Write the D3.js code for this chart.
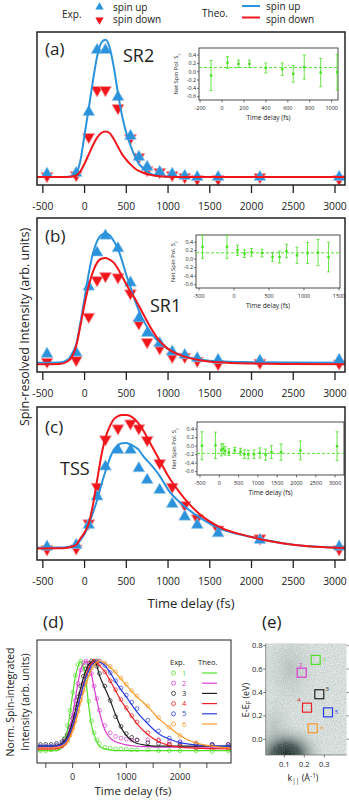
<!DOCTYPE html>
<html>
<head>
<meta charset="utf-8">
<script src="https://cdn.jsdelivr.net/npm/d3@7"></script>
<style>
  body { margin: 0; background: #fff; }
  text { font-family: "Open Sans", sans-serif; fill: #222; }
</style>
</head>
<body>
<div id="chart"></div>
<script>
// ---- data: spin-resolved panels (a)-(c) ----
const expTimes = [-450, -100, 50, 150, 250, 400, 550, 650, 750, 900, 1050, 1200, 1350, 1600, 2100, 3050]
const upA   = [0.072, 0.078, 0.477, 0.882, 0.882, 0.575, 0.32, 0.183, 0.118, 0.085, 0.072, 0.059, 0.052, 0.052, 0.052, 0.052]
const downA = [0.059, 0.065, 0.314, 0.621, 0.621, 0.503, 0.307, 0.183, 0.098, 0.085, 0.065, 0.052, 0.039, 0.039, 0.052, 0.039]
const upB   = [0.117, 0.125, 0.554, 0.775, 0.885, 0.803, 0.58, 0.349, 0.253, 0.186, 0.132, 0.11, 0.089, 0.078, 0.073, 0.078]
const downB = [0.067, 0.078, 0.359, 0.597, 0.623, 0.615, 0.511, 0.316, 0.195, 0.154, 0.099, 0.099, 0.073, 0.052, 0.06, 0.056]
const upC   = [0.087, 0.098, 0.229, 0.414, 0.61, 0.719, 0.719, 0.599, 0.523, 0.458, 0.366, 0.283, 0.229, 0.174, 0.131, 0.087]
const downC = [0.07, 0.076, 0.24, 0.479, 0.789, 0.861, 0.893, 0.861, 0.784, 0.634, 0.479, 0.359, 0.273, 0.2, 0.142, 0.07]

const theoTimes = [-570, -300, -200, -150, -100, -50, 0, 50, 100, 150, 200, 250, 300, 350, 400, 450, 500, 550, 600, 650, 700, 800, 900, 1000, 1200, 1400, 1600, 2000, 2500, 3120]
const theoUpA   = [0.052, 0.052, 0.054, 0.058, 0.075, 0.16, 0.33, 0.5, 0.68, 0.84, 0.93, 0.95, 0.9, 0.77, 0.6, 0.45, 0.34, 0.26, 0.19, 0.14, 0.11, 0.07, 0.058, 0.054, 0.052, 0.052, 0.052, 0.052, 0.052, 0.052]
const theoDownA = [0.052, 0.052, 0.053, 0.055, 0.062, 0.09, 0.14, 0.2, 0.26, 0.31, 0.34, 0.35, 0.34, 0.3, 0.25, 0.2, 0.165, 0.135, 0.11, 0.092, 0.08, 0.065, 0.057, 0.054, 0.052, 0.052, 0.052, 0.052, 0.052, 0.052]
const theoUpB   = [0.06, 0.062, 0.08, 0.12, 0.18, 0.32, 0.48, 0.64, 0.77, 0.85, 0.89, 0.9, 0.89, 0.85, 0.8, 0.72, 0.63, 0.55, 0.47, 0.4, 0.34, 0.25, 0.19, 0.15, 0.1, 0.08, 0.07, 0.064, 0.061, 0.06]
const theoDownB = [0.05, 0.052, 0.07, 0.1, 0.17, 0.3, 0.44, 0.56, 0.65, 0.71, 0.735, 0.74, 0.73, 0.71, 0.67, 0.62, 0.57, 0.52, 0.48, 0.43, 0.38, 0.28, 0.2, 0.15, 0.1, 0.075, 0.063, 0.055, 0.052, 0.05]
const theoUpC   = [0.08, 0.081, 0.085, 0.09, 0.1, 0.13, 0.17, 0.23, 0.31, 0.39, 0.49, 0.58, 0.66, 0.72, 0.75, 0.763, 0.765, 0.755, 0.74, 0.72, 0.68, 0.62, 0.55, 0.46, 0.35, 0.27, 0.21, 0.15, 0.1, 0.08]
const theoDownC = [0.075, 0.076, 0.08, 0.088, 0.1, 0.14, 0.18, 0.24, 0.36, 0.52, 0.68, 0.8, 0.87, 0.92, 0.94, 0.948, 0.948, 0.94, 0.92, 0.89, 0.85, 0.75, 0.65, 0.55, 0.4, 0.29, 0.22, 0.15, 0.1, 0.078]

const mainTicks = [-500, 0, 500, 1000, 1500, 2000, 2500, 3000]

// ---- insets: net spin polarisation ----
const insetTimesA = [-100, 50, 150, 250, 400, 550, 650, 750, 900, 1050]
const insetPolA   = [-0.09, 0.22, 0.19, 0.19, 0.09, 0.06, -0.05, 0.11, -0.02, -0.01]
const insetErrA   = [0.36, 0.14, 0.09, 0.09, 0.12, 0.15, 0.2, 0.29, 0.34, 0.43]
const insetMeanA  = 0.1
const insetTimesB = [-450, -100, 50, 150, 250, 400, 550, 650, 750, 900, 1050, 1200, 1350]
const insetPolB   = [0.29, 0.29, 0.21, 0.13, 0.16, 0.145, 0.05, 0.05, 0.19, 0.09, 0.145, 0.155, 0.05]
const insetErrB   = [0.27, 0.27, 0.12, 0.09, 0.09, 0.09, 0.1, 0.14, 0.16, 0.19, 0.25, 0.31, 0.35]
const insetMeanB  = 0.15
const insetTimesC = [-450, -100, 50, 100, 150, 250, 400, 550, 650, 750, 900, 1050, 1200, 1350, 1600, 2100, 3050]
const insetPolC   = [0.01, 0.02, -0.09, -0.06, -0.11, -0.14, -0.1, -0.13, -0.19, -0.2, -0.19, -0.16, -0.2, -0.14, -0.14, -0.1, 0.0]
const insetErrC   = [0.33, 0.31, 0.14, 0.12, 0.1, 0.08, 0.07, 0.08, 0.1, 0.1, 0.1, 0.12, 0.13, 0.15, 0.19, 0.22, 0.34]
const insetMeanC  = -0.17
const insetYTicks = [-0.6, -0.4, -0.2, 0.0, 0.2, 0.4]

// ---- panel (d): normalised spin-integrated ----
const dLabels = ["1", "2", "3", "4", "5", "6"]
const dColors = ["#52e02a", "#d83ccf", "#222222", "#ea2228", "#2a3ee0", "#f79a2a"]
const dExpTimes = [-600, -500, -400, -300, -200, -150, -100, -50, 0, 50, 100, 150, 200, 250, 300, 350, 400, 450, 500, 600, 700, 800, 900, 1000, 1100, 1200, 1400, 1600, 1800, 2000, 2300, 2600, 2900]
const dExp = [
  [0.0, 0.0, 0.01, 0.02, 0.06, 0.14, 0.28, 0.45, 0.65, 0.84, 0.96, 1.0, 0.95, 0.8, 0.55, 0.33, 0.2, 0.12, 0.08, 0.04, 0.03, 0.02, 0.02, 0.02, 0.01, 0.01, 0.01, 0.0, 0.0, 0.0, 0.0, -0.01, 0.0],
  [0.04, 0.04, 0.04, 0.05, 0.07, 0.11, 0.17, 0.27, 0.4, 0.56, 0.75, 0.9, 0.98, 1.0, 0.95, 0.86, 0.72, 0.58, 0.45, 0.28, 0.2, 0.16, 0.14, 0.13, 0.12, 0.12, 0.12, 0.11, 0.1, 0.09, 0.08, 0.07, 0.07],
  [0.07, 0.07, 0.07, 0.08, 0.1, 0.13, 0.18, 0.26, 0.36, 0.48, 0.6, 0.72, 0.83, 0.91, 0.97, 1.0, 0.99, 0.94, 0.86, 0.72, 0.56, 0.38, 0.27, 0.19, 0.15, 0.12, 0.09, 0.08, 0.07, 0.07, 0.07, 0.07, 0.07],
  [0.02, 0.02, 0.02, 0.03, 0.05, 0.08, 0.12, 0.19, 0.28, 0.39, 0.52, 0.64, 0.75, 0.85, 0.93, 0.98, 1.0, 0.99, 0.97, 0.88, 0.78, 0.68, 0.57, 0.48, 0.39, 0.32, 0.2, 0.12, 0.07, 0.05, 0.03, 0.02, 0.02],
  [0.05, 0.05, 0.05, 0.06, 0.08, 0.1, 0.14, 0.21, 0.3, 0.4, 0.52, 0.64, 0.74, 0.83, 0.9, 0.95, 0.98, 1.0, 1.0, 0.95, 0.87, 0.78, 0.7, 0.62, 0.54, 0.47, 0.34, 0.22, 0.14, 0.1, 0.07, 0.06, 0.05],
  [0.03, 0.03, 0.03, 0.04, 0.06, 0.08, 0.11, 0.17, 0.24, 0.33, 0.44, 0.56, 0.67, 0.76, 0.85, 0.92, 0.97, 0.99, 1.0, 0.98, 0.94, 0.88, 0.81, 0.74, 0.67, 0.61, 0.5, 0.37, 0.26, 0.17, 0.09, 0.05, 0.04]
]
const dTheoTimes = [-650, -400, -300, -200, -100, 0, 50, 100, 150, 200, 250, 300, 350, 400, 450, 500, 600, 700, 800, 900, 1000, 1200, 1400, 1600, 1800, 2000, 2400, 2950]
const dTheo = [
  [0, 0, 0, 0.04, 0.22, 0.63, 0.82, 0.94, 1.0, 0.93, 0.77, 0.5, 0.29, 0.18, 0.1, 0.05, 0.02, 0.01, 0, 0, 0, 0, 0, 0, 0, 0, 0, 0],
  [0.04, 0.04, 0.045, 0.06, 0.16, 0.4, 0.58, 0.76, 0.9, 0.97, 1.0, 0.96, 0.85, 0.7, 0.56, 0.43, 0.23, 0.14, 0.1, 0.08, 0.065, 0.05, 0.045, 0.04, 0.04, 0.04, 0.04, 0.04],
  [0.05, 0.05, 0.055, 0.08, 0.16, 0.33, 0.45, 0.58, 0.7, 0.81, 0.9, 0.96, 0.99, 1.0, 0.95, 0.84, 0.7, 0.56, 0.4, 0.26, 0.17, 0.08, 0.06, 0.05, 0.05, 0.05, 0.05, 0.05],
  [0.02, 0.02, 0.025, 0.04, 0.1, 0.26, 0.37, 0.5, 0.62, 0.74, 0.84, 0.92, 0.97, 1.0, 0.99, 0.95, 0.88, 0.78, 0.67, 0.56, 0.47, 0.3, 0.18, 0.1, 0.06, 0.04, 0.025, 0.02],
  [0.05, 0.05, 0.055, 0.07, 0.13, 0.28, 0.38, 0.5, 0.62, 0.73, 0.82, 0.89, 0.95, 0.98, 1.0, 0.99, 0.95, 0.87, 0.77, 0.68, 0.6, 0.43, 0.3, 0.19, 0.13, 0.09, 0.06, 0.05],
  [0.03, 0.03, 0.035, 0.05, 0.1, 0.22, 0.31, 0.42, 0.54, 0.65, 0.75, 0.84, 0.91, 0.96, 0.99, 1.0, 0.98, 0.93, 0.87, 0.8, 0.73, 0.6, 0.49, 0.36, 0.26, 0.17, 0.07, 0.03]
]
const dTicks = [-500, 0, 500, 1000, 1500, 2000, 2500]
const dTickLabels = [0, 1000, 2000]

// ---- panel (e): ARPES boxes ----
const eK = [0.257, 0.187, 0.275, 0.2135, 0.3185, 0.242]
const eE = [0.678, 0.569, 0.385, 0.27, 0.23, 0.094]
const eYTicks = [0.0, 0.2, 0.4, 0.6, 0.8]
const eXTicks = [0.1, 0.2, 0.3]

// ---------------------------------------------------------------
const upColor = "#2b93dc"
const downColor = "#f0161c"
const green = "#45e01e"

const svg = d3.select("#chart").append("svg").attr("width", 349).attr("height", 800)
const defs = svg.append("defs")

const xMain = d3.scaleLinear().domain([-570, 3120]).range([37, 345])

// top legend
const leg = svg.append("g")
leg.append("text").attr("x", 62).attr("y", 18).attr("font-size", 10).text("Exp.")
leg.append("path").attr("d", d3.symbol(d3.symbolTriangle, 30)()).attr("transform", "translate(99.5,7)").attr("fill", upColor)
leg.append("path").attr("d", d3.symbol(d3.symbolTriangle, 30)()).attr("transform", "translate(99.5,20) rotate(180)").attr("fill", downColor)
leg.append("text").attr("x", 113).attr("y", 10.5).attr("font-size", 10).text("spin up")
leg.append("text").attr("x", 113).attr("y", 23).attr("font-size", 10).text("spin down")
leg.append("text").attr("x", 202).attr("y", 17).attr("font-size", 10).text("Theo.")
leg.append("line").attr("x1", 242).attr("x2", 260).attr("y1", 6).attr("y2", 6).attr("stroke", upColor).attr("stroke-width", 2)
leg.append("line").attr("x1", 242).attr("x2", 260).attr("y1", 17.5).attr("y2", 17.5).attr("stroke", downColor).attr("stroke-width", 2)
leg.append("text").attr("x", 266).attr("y", 10).attr("font-size", 10).text("spin up")
leg.append("text").attr("x", 266).attr("y", 22.5).attr("font-size", 10).text("spin down")

const panels = [
  {id: "a", label: "(a)", tag: "SR2", tagX: 123, tagY: 62, top: 32, bottom: 185, labelY: 55,
   up: upA, down: downA, theoUp: theoUpA, theoDown: theoDownA,
   inset: {x0: 199, x1: 338, y0: 48, y1: 100, domain: [-210, 1058], ticks: [-200, 0, 200, 400, 600, 800, 1000],
           t: insetTimesA, v: insetPolA, e: insetErrA, mean: insetMeanA}},
  {id: "b", label: "(b)", tag: "SR1", tagX: 150, tagY: 312, top: 218, bottom: 372, labelY: 242,
   up: upB, down: downB, theoUp: theoUpB, theoDown: theoDownB,
   inset: {x0: 196, x1: 340, y0: 235, y1: 288, domain: [-543, 1514], ticks: [-500, 0, 500, 1000, 1500],
           t: insetTimesB, v: insetPolB, e: insetErrB, mean: insetMeanB}},
  {id: "c", label: "(c)", tag: "TSS", tagX: 60, tagY: 475, top: 407, bottom: 560, labelY: 433,
   up: upC, down: downC, theoUp: theoUpC, theoDown: theoDownC,
   inset: {x0: 197, x1: 344, y0: 422, y1: 475, domain: [-578, 3230], ticks: [-500, 0, 500, 1000, 1500, 2000, 2500, 3000],
           t: insetTimesC, v: insetPolC, e: insetErrC, mean: insetMeanC}}
]

panels.forEach(p => {
  const y = d3.scaleLinear().domain([0, 1]).range([p.bottom, p.top])
  const g = svg.append("g")

  defs.append("clipPath").attr("id", "clip-" + p.id)
    .append("rect").attr("x", 37).attr("y", p.top).attr("width", 308).attr("height", p.bottom - p.top)

  const plot = g.append("g").attr("clip-path", `url(#clip-${p.id})`)
  const lineGen = d3.line().x(d => xMain(d[0])).y(d => y(d[1])).curve(d3.curveMonotoneX)

  // experimental markers
  plot.selectAll(".dn").data(d3.zip(expTimes, p.down)).join("path")
    .attr("d", d3.symbol(d3.symbolTriangle, 62)())
    .attr("transform", d => `translate(${xMain(d[0])},${y(d[1])}) rotate(180)`)
    .attr("fill", downColor).attr("stroke", "#f7a3a8").attr("stroke-width", 0.8)
  plot.selectAll(".up").data(d3.zip(expTimes, p.up)).join("path")
    .attr("d", d3.symbol(d3.symbolTriangle, 62)())
    .attr("transform", d => `translate(${xMain(d[0])},${y(d[1])})`)
    .attr("fill", upColor).attr("stroke", "#9fcdef").attr("stroke-width", 0.6)

  // theory curves
  plot.append("path").datum(d3.zip(theoTimes, p.theoUp)).attr("d", lineGen)
    .attr("fill", "none").attr("stroke", upColor).attr("stroke-width", 2)
  plot.append("path").datum(d3.zip(theoTimes, p.theoDown)).attr("d", lineGen)
    .attr("fill", "none").attr("stroke", downColor).attr("stroke-width", 2)

  // frame
  g.append("rect").attr("x", 37).attr("y", p.top).attr("width", 308).attr("height", p.bottom - p.top)
    .attr("fill", "none").attr("stroke", "#222").attr("stroke-width", 1.5)

  // x axis ticks & labels
  g.selectAll(".tk").data(mainTicks).join("line")
    .attr("x1", d => xMain(d)).attr("x2", d => xMain(d))
    .attr("y1", p.bottom).attr("y2", p.bottom + 8)
    .attr("stroke", "#222").attr("stroke-width", 1.3)
  g.selectAll(".tl").data(mainTicks).join("text")
    .attr("x", d => xMain(d)).attr("y", p.bottom + 25)
    .attr("text-anchor", "middle").attr("font-size", 10.3).text(d => d)

  g.append("text").attr("x", 45).attr("y", p.labelY).attr("font-size", 17).text(p.label)
  g.append("text").attr("x", p.tagX).attr("y", p.tagY).attr("font-size", 18).text(p.tag)

  // inset
  const ins = p.inset
  const ix = d3.scaleLinear().domain(ins.domain).range([ins.x0, ins.x1])
  const iy = d3.scaleLinear().domain([-0.68, 0.57]).range([ins.y1, ins.y0])
  const ig = g.append("g")
  ig.append("rect").attr("x", ins.x0).attr("y", ins.y0).attr("width", ins.x1 - ins.x0).attr("height", ins.y1 - ins.y0)
    .attr("fill", "#fff").attr("stroke", "#222").attr("stroke-width", 0.8)
  ig.append("line").attr("x1", ins.x0).attr("x2", ins.x1).attr("y1", iy(ins.mean)).attr("y2", iy(ins.mean))
    .attr("stroke", green).attr("stroke-width", 0.9).attr("stroke-dasharray", "3,2")
  const pts = d3.zip(ins.t, ins.v, ins.e)
  ig.selectAll(".eb").data(pts).join("line")
    .attr("x1", d => ix(d[0])).attr("x2", d => ix(d[0]))
    .attr("y1", d => iy(d[1] - d[2])).attr("y2", d => iy(d[1] + d[2]))
    .attr("stroke", green).attr("stroke-width", 0.8)
  ig.selectAll(".cp").data(pts.flatMap(d => [[d[0], d[1] - d[2]], [d[0], d[1] + d[2]]])).join("line")
    .attr("x1", d => ix(d[0]) - 1.5).attr("x2", d => ix(d[0]) + 1.5)
    .attr("y1", d => iy(d[1])).attr("y2", d => iy(d[1]))
    .attr("stroke", green).attr("stroke-width", 0.8)
  ig.selectAll(".pt").data(pts).join("rect")
    .attr("x", d => ix(d[0]) - 1.2).attr("y", d => iy(d[1]) - 1.2).attr("width", 2.4).attr("height", 2.4)
    .attr("fill", green)
  ig.selectAll(".yt").data(insetYTicks).join("line")
    .attr("x1", ins.x0 - 2).attr("x2", ins.x0).attr("y1", d => iy(d)).attr("y2", d => iy(d))
    .attr("stroke", "#222").attr("stroke-width", 0.6)
  ig.selectAll(".yl").data(insetYTicks).join("text")
    .attr("x", ins.x0 - 3).attr("y", d => iy(d) + 1.8).attr("text-anchor", "end")
    .attr("font-size", 5.4).text(d => d.toFixed(1))
  ig.selectAll(".xt").data(ins.ticks).join("line")
    .attr("x1", d => ix(d)).attr("x2", d => ix(d)).attr("y1", ins.y1).attr("y2", ins.y1 + 2.5)
    .attr("stroke", "#222").attr("stroke-width", 0.6)
  ig.selectAll(".xl").data(ins.ticks).join("text")
    .attr("x", d => ix(d)).attr("y", ins.y1 + 10).attr("text-anchor", "middle")
    .attr("font-size", 5.4).text(d => d)
  ig.append("text").attr("x", (ins.x0 + ins.x1) / 2).attr("y", ins.y1 + 20)
    .attr("text-anchor", "middle").attr("font-size", 6.6).text("Time delay (fs)")
  const yl = ig.append("text").attr("transform", `translate(${ins.x0 - 21},${(ins.y0 + ins.y1) / 2}) rotate(-90)`)
    .attr("text-anchor", "middle").attr("font-size", 5.8)
  yl.append("tspan").text("Net Spin Pol. S")
  yl.append("tspan").attr("font-size", 4.2).attr("dy", 1.5).text("y")
})

svg.append("text").attr("x", 191).attr("y", 608).attr("text-anchor", "middle").attr("font-size", 13).text("Time delay (fs)")
svg.append("text").attr("transform", "translate(29,327) rotate(-90)").attr("text-anchor", "middle")
  .attr("font-size", 12.5).text("Spin-resolved Intensity (arb. units)")

// ---- panel (d) ----
const xd = d3.scaleLinear().domain([-664, 2950]).range([37, 231])
const yd = d3.scaleLinear().domain([-0.137, 1.234]).range([763, 640])
const gd = svg.append("g")
defs.append("clipPath").attr("id", "clip-d").append("rect").attr("x", 37).attr("y", 640).attr("width", 194).attr("height", 123)
const pd = gd.append("g").attr("clip-path", "url(#clip-d)")
const dLine = d3.line().x(d => xd(d[0])).y(d => yd(d[1])).curve(d3.curveMonotoneX)
dExp.forEach((vals, i) => {
  pd.append("g").selectAll("circle").data(d3.zip(dExpTimes, vals)).join("circle")
    .attr("cx", d => xd(d[0])).attr("cy", d => yd(d[1])).attr("r", 1.9)
    .attr("fill", "none").attr("stroke", dColors[i]).attr("stroke-width", 0.7)
})
dTheo.forEach((vals, i) => {
  pd.append("path").datum(d3.zip(dTheoTimes, vals)).attr("d", dLine)
    .attr("fill", "none").attr("stroke", dColors[i]).attr("stroke-width", 1.2)
})
gd.append("rect").attr("x", 37).attr("y", 640).attr("width", 194).attr("height", 123)
  .attr("fill", "none").attr("stroke", "#222").attr("stroke-width", 1)
gd.selectAll(".tk").data(dTicks).join("line")
  .attr("x1", d => xd(d)).attr("x2", d => xd(d)).attr("y1", 763).attr("y2", 768)
  .attr("stroke", "#222").attr("stroke-width", 0.8)
gd.selectAll(".tl").data(dTickLabels).join("text")
  .attr("x", d => xd(d)).attr("y", 780).attr("text-anchor", "middle").attr("font-size", 9).text(d => d)
gd.append("text").attr("x", 133).attr("y", 795).attr("text-anchor", "middle").attr("font-size", 11.5).text("Time delay (fs)")
gd.append("text").attr("transform", "translate(14,702) rotate(-90)").attr("text-anchor", "middle")
  .attr("font-size", 10.5).text("Norm. Spin-integrated")
gd.append("text").attr("transform", "translate(29,702) rotate(-90)").attr("text-anchor", "middle")
  .attr("font-size", 10.5).text("Intensity (arb. units)")
gd.append("text").attr("x", 43).attr("y", 628).attr("font-size", 17).text("(d)")
// legend
gd.append("text").attr("x", 170).attr("y", 665).attr("font-size", 7.5).text("Exp.")
gd.append("text").attr("x", 198).attr("y", 665).attr("font-size", 7.5).text("Theo.")
dLabels.forEach((lab, i) => {
  const ly = 673 + i * 10.2
  gd.append("circle").attr("cx", 173.5).attr("cy", ly).attr("r", 2).attr("fill", "none")
    .attr("stroke", dColors[i]).attr("stroke-width", 0.8)
  gd.append("text").attr("x", 182).attr("y", ly + 2.5).attr("font-size", 7.5).style("fill", dColors[i]).text(lab)
  gd.append("line").attr("x1", 202).attr("x2", 217).attr("y1", ly).attr("y2", ly)
    .attr("stroke", dColors[i]).attr("stroke-width", 1.2)
})

// ---- panel (e) ----
const xe = d3.scaleLinear().domain([0.007, 0.412]).range([265.7, 346.7])
const ye = d3.scaleLinear().domain([-0.134, 0.82]).range([755, 643.3])
const ge = svg.append("g")
defs.append("clipPath").attr("id", "clip-e").append("rect").attr("x", 265.7).attr("y", 643.3).attr("width", 81).attr("height", 111.7)
const speck = defs.append("filter").attr("id", "speck").attr("x", 0).attr("y", 0).attr("width", 1).attr("height", 1)
speck.append("feTurbulence").attr("type", "fractalNoise").attr("baseFrequency", 0.9).attr("numOctaves", 2).attr("seed", 4)
speck.append("feColorMatrix").attr("type", "matrix")
  .attr("values", "0 0 0 0 0.3  0 0 0 0 0.38  0 0 0 0 0.36  1.6 0 0 0 -0.55")
const blob = defs.append("radialGradient").attr("id", "blob")
blob.append("stop").attr("offset", "0").attr("stop-color", "#0f1b19").attr("stop-opacity", 1)
blob.append("stop").attr("offset", "0.35").attr("stop-color", "#2c3d3a").attr("stop-opacity", 0.85)
blob.append("stop").attr("offset", "0.7").attr("stop-color", "#7b8b88").attr("stop-opacity", 0.35)
blob.append("stop").attr("offset", "1").attr("stop-color", "#b8c2c0").attr("stop-opacity", 0)
const haze = defs.append("radialGradient").attr("id", "haze")
haze.append("stop").attr("offset", "0").attr("stop-color", "#9eaaa7").attr("stop-opacity", 0.5)
haze.append("stop").attr("offset", "1").attr("stop-color", "#c8d0ce").attr("stop-opacity", 0)

const pe = ge.append("g").attr("clip-path", "url(#clip-e)")
pe.append("rect").attr("x", 265.7).attr("y", 643.3).attr("width", 81).attr("height", 111.7).attr("fill", "#e1e7e5")
pe.append("ellipse").attr("cx", xe(0.13)).attr("cy", ye(0.6)).attr("rx", 28).attr("ry", 45).attr("fill", "url(#haze)")
pe.append("ellipse").attr("cx", xe(0.05)).attr("cy", ye(0.1)).attr("rx", 22).attr("ry", 32).attr("fill", "url(#haze)")
pe.append("ellipse").attr("cx", xe(0.11)).attr("cy", ye(-0.13)).attr("rx", 38).attr("ry", 30).attr("fill", "url(#blob)")
pe.append("rect").attr("x", 265.7).attr("y", 643.3).attr("width", 81).attr("height", 111.7)
  .attr("filter", "url(#speck)").attr("opacity", 0.55)
// region boxes
eK.forEach((k, i) => {
  pe.append("rect").attr("x", xe(k) - 4.5).attr("y", ye(eE[i]) - 4.5).attr("width", 9).attr("height", 9)
    .attr("fill", "none").attr("stroke", dColors[i]).attr("stroke-width", 1.2)
})
const eLabelDx = [9, -1, 8, -8, 8.5, 9.5]
const eLabelDy = [2, -6, -3.5, -5.5, 2, 2]
eK.forEach((k, i) => {
  ge.append("text").attr("x", xe(k) + eLabelDx[i]).attr("y", ye(eE[i]) + eLabelDy[i])
    .attr("text-anchor", "middle").attr("font-size", 6).style("fill", dColors[i]).text(dLabels[i])
})
ge.append("line").attr("x1", 265.7).attr("x2", 265.7).attr("y1", 643.3).attr("y2", 755).attr("stroke", "#666").attr("stroke-width", 0.7)
ge.append("line").attr("x1", 265.7).attr("x2", 346.7).attr("y1", 755).attr("y2", 755).attr("stroke", "#666").attr("stroke-width", 0.7)
ge.selectAll(".yt").data(eYTicks).join("line")
  .attr("x1", 263.2).attr("x2", 265.7).attr("y1", d => ye(d)).attr("y2", d => ye(d)).attr("stroke", "#444").attr("stroke-width", 0.7)
ge.selectAll(".yr").data(eYTicks).join("line")
  .attr("x1", 346.7).attr("x2", 348.7).attr("y1", d => ye(d)).attr("y2", d => ye(d)).attr("stroke", "#444").attr("stroke-width", 0.7)
ge.selectAll(".yl").data(eYTicks).join("text")
  .attr("x", 262.5).attr("y", d => ye(d) + 2.6).attr("text-anchor", "end").attr("font-size", 7.5).text(d => d.toFixed(1))
ge.selectAll(".xt").data(eXTicks).join("line")
  .attr("x1", d => xe(d)).attr("x2", d => xe(d)).attr("y1", 755).attr("y2", 757.5).attr("stroke", "#444").attr("stroke-width", 0.7)
ge.selectAll(".xl").data(eXTicks).join("text")
  .attr("x", d => xe(d)).attr("y", 767).attr("text-anchor", "middle").attr("font-size", 7.5).text(d => d.toFixed(1))
const kl = ge.append("text").attr("x", 303).attr("y", 781).attr("text-anchor", "middle").attr("font-size", 9)
kl.append("tspan").text("k")
kl.append("tspan").attr("font-size", 6.5).attr("dy", 2).text("||")
kl.append("tspan").attr("dy", -2).text(" (Å")
kl.append("tspan").attr("font-size", 6.5).attr("dy", -3).text("-1")
kl.append("tspan").attr("dy", 3).text(")")
const el = ge.append("text").attr("transform", "translate(249,700) rotate(-90)").attr("text-anchor", "middle").attr("font-size", 9)
el.append("tspan").text("E-E")
el.append("tspan").attr("font-size", 6.5).attr("dy", 2).text("F")
el.append("tspan").attr("dy", -2).text(" (eV)")
ge.append("text").attr("x", 262).attr("y", 628).attr("font-size", 17).text("(e)")
</script>
</body>
</html>
